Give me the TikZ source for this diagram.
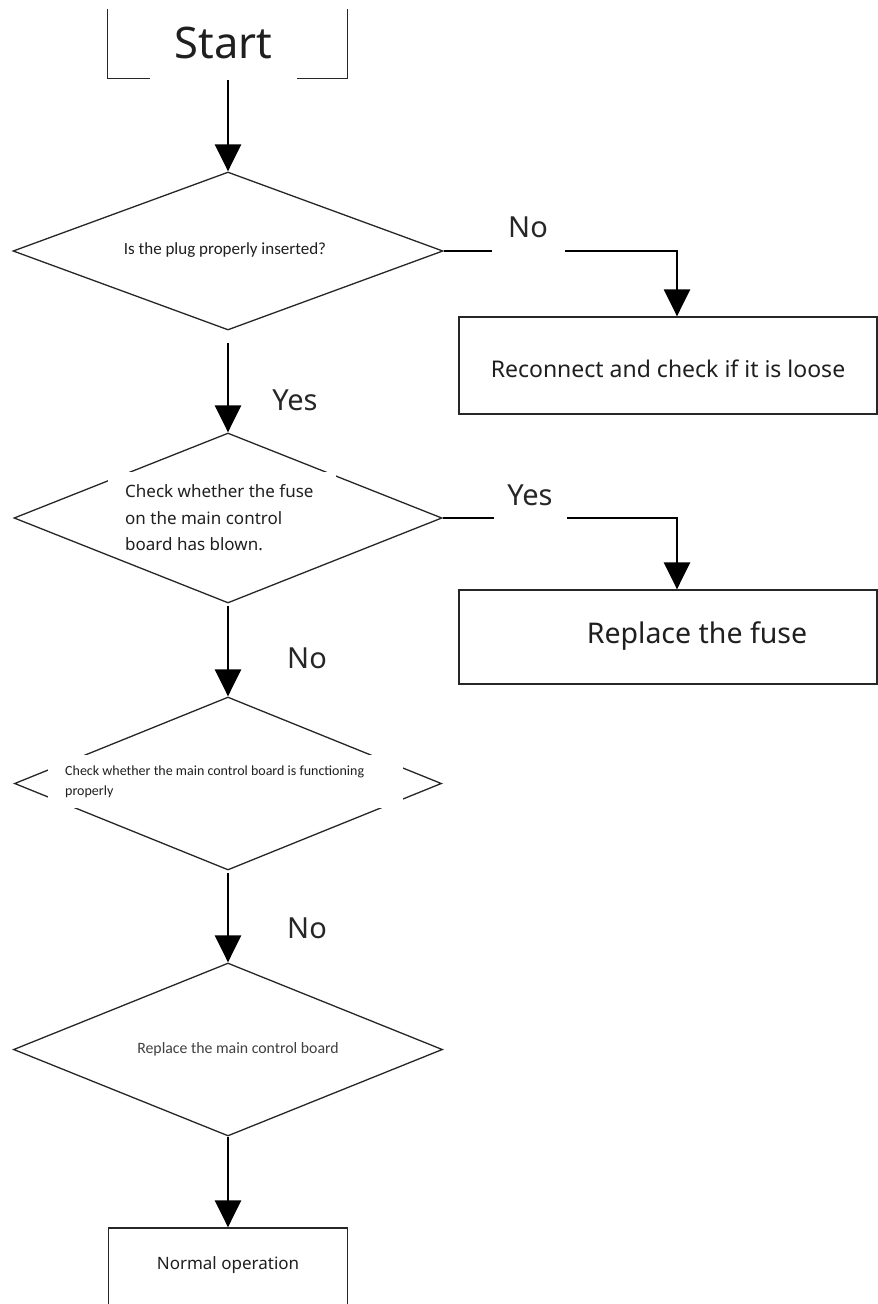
\documentclass[tikz,border=0pt]{standalone}
\usepackage{fontspec}
\setmainfont{Noto Sans}
\newfontfamily\smallfont{Carlito}
\usetikzlibrary{shapes.geometric,arrows.meta}
\begin{document}
\begin{tikzpicture}[x=1pt,y=-1pt,
  decision/.style={draw=black!85,line width=1.3pt,diamond,inner sep=0pt,aspect=1},
  box/.style={draw=black!85,line width=1.3pt,rectangle,inner sep=0pt},
  flow/.style={line width=2.8pt,-{Triangle[width=26pt,length=27pt]}},
  lbl/.style={font=\fontsize{29}{32}\selectfont,text=black!85,inner sep=0pt},
  txt/.style={text=black!88,inner sep=0pt}]
\clip (0,0) rectangle (878,1304);
\fill[white] (0,0) rectangle (878,1304);

% Start (box open at the top)
\node[rectangle,inner sep=0pt,minimum width=239pt,minimum height=69pt] (startbox) at (227.5,43.5) {};
\draw[black!85,line width=1.3pt] (startbox.north west) |- (startbox.south east) -- (startbox.north east);
\node[txt,fill=white,minimum width=147pt,minimum height=76pt,font=\fontsize{43.5}{46}\selectfont] (start) at (223.5,43) {Start};

% decision 1
\node[decision,minimum width=430pt,minimum height=158pt] (d1) at (228,251) {};
\node[txt,font=\smallfont\fontsize{17}{20}\selectfont] (t1) at (225,250) {Is the plug properly inserted?};

% box 1
\node[box,minimum width=418pt,minimum height=97pt] (b1) at (668,365.5) {};
\node[txt,font=\fontsize{23}{26}\selectfont] (t1b) at (668,369) {Reconnect and check if it is loose};

% decision 2
\node[decision,minimum width=428pt,minimum height=170pt] (d2) at (228,518) {};
\node[txt,fill=white,minimum width=228pt,minimum height=80pt] (t2bg) at (222,512) {};
\node[txt,font=\fontsize{17}{26.5}\selectfont,align=left,anchor=west] (t2) at (125,518) {Check whether the fuse\\on the main control\\board has blown.};

% box 2
\node[box,minimum width=418pt,minimum height=94pt] (b2) at (668,637) {};
\node[txt,font=\fontsize{28.5}{32}\selectfont] (t2b) at (697,636) {Replace the fuse};

% decision 3
\node[decision,minimum width=427pt,minimum height=173pt] (d3) at (228,783.5) {};
\node[txt,fill=white,minimum width=355pt,minimum height=53pt] (t3bg) at (225.5,781) {};
\node[txt,font=\smallfont\fontsize{14}{20}\selectfont,align=left,anchor=west] (t3) at (65,782) {Check whether the main control board is functioning\\properly};

% decision 4
\node[decision,minimum width=429pt,minimum height=173pt] (d4) at (228,1049.5) {};
\node[txt,text=black!75,font=\smallfont\fontsize{15.8}{18}\selectfont] (t4) at (238,1049) {Replace the main control board};

% final box (open beyond bottom edge)
\node[box,minimum width=239pt,minimum height=112pt] (end) at (228,1284) {};
\node[txt,font=\fontsize{17}{20}\selectfont] (tend) at (228,1265) {Normal operation};

% connectors
\coordinate (s0) at ([yshift=-2pt]startbox.south -| d1.north);
\draw[flow] (s0) -- (d1.north);
\draw[flow] ([yshift=-12pt]d1.south) -- (d2.north);
\draw[flow] ([yshift=-2pt]d2.south) -- (d3.north);
\draw[flow] ([yshift=-2pt]d3.south) -- (d4.north);
\draw[flow] (d4.south) -- (end.north);

\coordinate (b1in) at ([xshift=9pt]b1.north);
\coordinate (b2in) at ([xshift=9pt]b2.north);
\draw[flow,line width=2.5pt] (d1.east) -| (b1in);
\draw[flow,line width=2.5pt] (d2.east) -| (b2in);

% labels
\node[lbl,fill=white,minimum width=73pt,minimum height=54pt] (lno1) at (528,227) {No};
\node[lbl,fill=white,minimum width=73pt,minimum height=54pt] (lyes2) at (530,495) {Yes};
\node[lbl] (lyes1) at (295,400) {Yes};
\node[lbl] (lno2) at (307,658) {No};
\node[lbl] (lno3) at (307,928) {No};
\end{tikzpicture}
\end{document}
